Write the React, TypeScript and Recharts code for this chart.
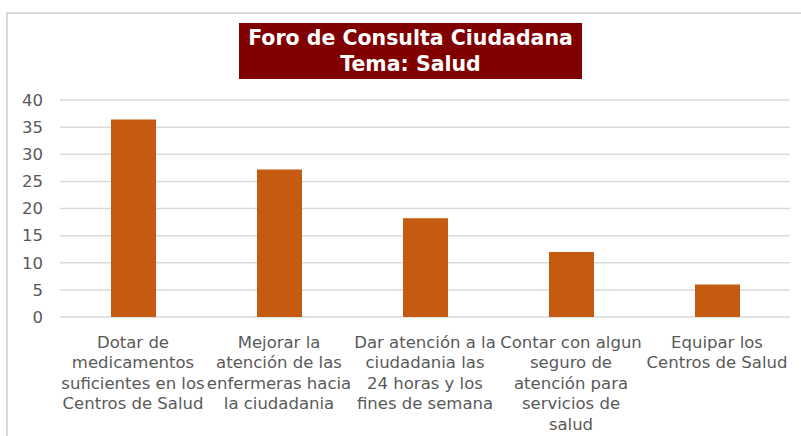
import { BarChart, Bar, XAxis, YAxis, CartesianGrid } from 'recharts';

// categorias (cada una partida en lineas como en el original)
const categorias: string[][] = [
  ['Dotar de', 'medicamentos', 'suficientes en los', 'Centros de Salud'],
  ['Mejorar la', 'atención de las', 'enfermeras hacia', 'la ciudadania'],
  ['Dar atención a la', 'ciudadania las', '24 horas y los', 'fines de semana'],
  ['Contar con algun', 'seguro de', 'atención para', 'servicios de', 'salud'],
  ['Equipar los', 'Centros de Salud'],
];
const valores = [36.4, 27.2, 18.2, 12, 6];
const ticksY = [0, 5, 10, 15, 20, 25, 30, 35, 40];

const data = categorias.map((lineas, i) => ({ name: lineas.join(' '), total: valores[i] }));

const font = '"DejaVu Sans", Verdana, sans-serif';

function TickCategoria(props: any) {
  const { x, y, payload } = props;
  const idx = data.findIndex((d) => d.name === payload.value);
  const lineas = categorias[idx] || [payload.value];
  return (
    <text x={x} y={y} textAnchor="middle" fill="#595959" fontSize={16.5} fontFamily={font}>
      {lineas.map((l, i) => (
        <tspan key={i} x={x} dy={i === 0 ? 23 : 20.4}>
          {l}
        </tspan>
      ))}
    </text>
  );
}

export default function App() {
  return (
    <div style={{ position: 'absolute', left: 0, top: 0, width: 801, height: 436, background: '#fff', overflow: 'hidden' }}>
      {/* marco del grafico */}
      <div
        style={{
          position: 'absolute',
          left: 6,
          top: 12,
          width: 800,
          height: 440,
          border: '2px solid #d9d9d9',
          boxSizing: 'border-box',
        }}
      />
      <div
        style={{
          position: 'absolute',
          left: 239,
          top: 23,
          width: 343,
          height: 56,
          background: '#800000',
          color: '#fff',
          fontFamily: font,
          fontWeight: 'bold',
          fontSize: 20.5,
          lineHeight: '26px',
          textAlign: 'center',
          paddingTop: 2,
          boxSizing: 'border-box',
        }}
      >
        Foro de Consulta Ciudadana
        <br />
        Tema: Salud
      </div>
      <BarChart
        width={801}
        height={436}
        data={data}
        margin={{ top: 100, right: 11, bottom: 0, left: 0 }}
        barSize={45}
        style={{ position: 'absolute', left: 0, top: 0 }}
      >
        <CartesianGrid vertical={false} stroke="#d9d9d9" strokeWidth={1.5} />
        <XAxis
          dataKey="name"
          axisLine={false}
          tickLine={false}
          height={119}
          interval={0}
          tick={<TickCategoria />}
        />
        <YAxis
          width={60}
          domain={[0, 40]}
          ticks={ticksY}
          axisLine={false}
          tickLine={false}
          tickMargin={11}
          tick={{ fill: '#595959', fontSize: 16.5, fontFamily: font }}
        />
        <Bar dataKey="total" fill="#C55A11" isAnimationActive={false} />
      </BarChart>
    </div>
  );
}
